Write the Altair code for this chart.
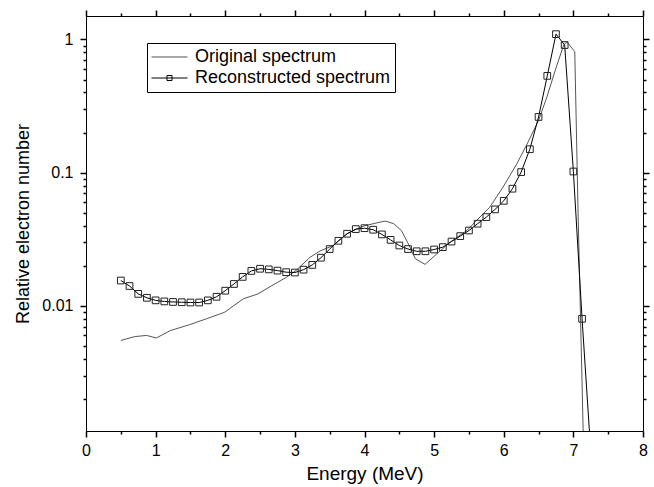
import altair as alt
import pandas as pd

# ---------------- data ----------------
orig_energy = [0.5, 0.70, 0.87, 1.01, 1.21, 1.49, 1.73, 1.99, 2.26, 2.47, 2.67, 2.88,
               3.03, 3.22, 3.36, 3.55, 3.75, 3.98, 4.22, 4.30, 4.42, 4.53, 4.63, 4.73,
               4.87, 5.04, 5.23, 5.47, 5.61, 5.80, 5.99, 6.19, 6.35, 6.50, 6.62, 6.74,
               6.86, 6.905, 7.02, 7.07, 7.14, 7.16]
orig_value = [0.0055, 0.00588, 0.0060, 0.00574, 0.00652, 0.00723, 0.0080, 0.00895, 0.0113,
              0.0123, 0.0142, 0.0164, 0.0187, 0.0232, 0.0258, 0.0284, 0.0348, 0.0397,
              0.0425, 0.0433, 0.0414, 0.0368, 0.0292, 0.0226, 0.0205, 0.0246, 0.0301,
              0.0368, 0.0438, 0.0551, 0.078, 0.117, 0.170, 0.247, 0.37, 0.588, 0.906,
              0.96, 0.81, 0.044, 0.0012, 0.0006]

recon_energy = [0.5, 0.625, 0.75, 0.875, 1.0, 1.125, 1.25, 1.375, 1.5, 1.625, 1.75, 1.875,
                2.0, 2.125, 2.25, 2.375, 2.5, 2.625, 2.75, 2.875, 3.0, 3.125, 3.25, 3.375,
                3.5, 3.625, 3.75, 3.875, 4.0, 4.125, 4.25, 4.375, 4.5, 4.625, 4.75, 4.875,
                5.0, 5.125, 5.25, 5.375, 5.5, 5.625, 5.75, 5.875, 6.0, 6.125, 6.25, 6.375,
                6.5, 6.625, 6.75, 6.875, 7.0, 7.125, 7.25]
recon_value = [0.0155, 0.0141, 0.0123, 0.0115, 0.0110, 0.0108, 0.0107, 0.01065, 0.0106,
               0.0106, 0.0110, 0.0117, 0.0130, 0.0146, 0.0165, 0.0183, 0.0190, 0.0188,
               0.0184, 0.0179, 0.0178, 0.0187, 0.0203, 0.0230, 0.0267, 0.0308, 0.0348,
               0.0377, 0.0383, 0.0373, 0.0344, 0.0313, 0.0284, 0.0267, 0.0257, 0.0257,
               0.0265, 0.0276, 0.0304, 0.0334, 0.0368, 0.0414, 0.0464, 0.0530, 0.0615,
               0.0758, 0.101, 0.150, 0.262, 0.533, 1.096, 0.908, 0.102, 0.0080, 0.0008]

series_names = ["Original spectrum", "Reconstructed spectrum"]

x_major_ticks = [0, 1, 2, 3, 4, 5, 6, 7, 8]
x_minor_ticks = [0.5, 1.5, 2.5, 3.5, 4.5, 5.5, 6.5, 7.5]
y_major_ticks = [0.01, 0.1, 1]
y_minor_ticks = [0.002, 0.003, 0.004, 0.005, 0.006, 0.007, 0.008, 0.009,
                 0.02, 0.03, 0.04, 0.05, 0.06, 0.07, 0.08, 0.09,
                 0.2, 0.3, 0.4, 0.5, 0.6, 0.7, 0.8, 0.9]

orig_df = pd.DataFrame({"energy": orig_energy, "value": orig_value})
recon_df = pd.DataFrame({"energy": recon_energy, "value": recon_value})
legend_df = pd.DataFrame({"series": series_names})

# ---------------- styling ----------------
FONT = "Liberation Sans"
x_scale = alt.Scale(domain=[0, 8], nice=False, zero=False)
y_scale = alt.Scale(type="log", domain=[0.00115, 1.5], nice=False)

text_style = dict(grid=False, labelFont=FONT, titleFont=FONT,
                  labelColor="black", titleColor="black", labelFontSize=16,
                  titleFontWeight="normal", labelOverlap=False,
                  labelFlush=False, domainColor="black", domainWidth=1)
tick_style = dict(tickColor="black", tickWidth=1.5)


def minor_axis(orient, values):
    return alt.Axis(orient=orient, values=values, tickSize=3, labels=False,
                    title=None, domain=False, **text_style, **tick_style)


def major_axis(orient, values):
    return alt.Axis(orient=orient, values=values, tickSize=6, labels=False,
                    title=None, **text_style, **tick_style)


x_bottom = alt.Axis(orient="bottom", values=x_major_ticks, tickSize=6, format="d",
                    title="Energy (MeV)", titleFontSize=19, labelPadding=5,
                    titlePadding=6, **text_style, **tick_style)
y_left = alt.Axis(orient="left", values=y_major_ticks, tickSize=6, format="~g",
                  title="Relative electron number", titleFontSize=18, labelPadding=7,
                  titlePadding=9, **text_style, **tick_style)

orig_line = alt.Chart(orig_df).mark_line(color="#555555", strokeWidth=1, clip=True).encode(
    x=alt.X("energy:Q", scale=x_scale, axis=x_bottom),
    y=alt.Y("value:Q", scale=y_scale, axis=y_left),
)

recon_line = alt.Chart(recon_df).mark_line(color="black", strokeWidth=1, clip=True).encode(
    x=alt.X("energy:Q", scale=x_scale, axis=major_axis("top", x_major_ticks)),
    y=alt.Y("value:Q", scale=y_scale, axis=major_axis("right", y_major_ticks)),
)

recon_pts = alt.Chart(recon_df).mark_point(shape="square", size=45, color="#222222",
                                          filled=False, strokeWidth=1, opacity=1,
                                          clip=True).encode(
    x=alt.X("energy:Q", scale=x_scale, axis=minor_axis("bottom", x_minor_ticks)),
    y=alt.Y("value:Q", scale=y_scale, axis=minor_axis("left", y_minor_ticks)),
)

# invisible layer that only carries the minor ticks of the top and right frame
frame_layer = alt.Chart(recon_df).mark_point(opacity=0, clip=True).encode(
    x=alt.X("energy:Q", scale=x_scale, axis=minor_axis("top", x_minor_ticks)),
    y=alt.Y("value:Q", scale=y_scale, axis=minor_axis("right", y_minor_ticks)),
)

line_path = "M-1,0H1"
line_square_path = "M-1,0H1M-0.14,-0.14H0.14V0.14H-0.14Z"

legend_def = alt.Legend(orient="none", legendX=61, legendY=27, title=None,
                        strokeColor="black", padding=4, cornerRadius=0,
                        labelFont=FONT, labelFontSize=18, labelColor="black",
                        labelLimit=400,
                        symbolSize=1296, symbolStrokeWidth=1, clipHeight=20,
                        labelOffset=7, rowPadding=1, symbolOpacity=1)

legend_layer = alt.Chart(legend_df).mark_point(opacity=0, filled=False).encode(
    shape=alt.Shape("series:N", scale=alt.Scale(domain=series_names,
                                                range=[line_path, line_square_path]),
                    legend=legend_def),
    color=alt.Color("series:N", scale=alt.Scale(domain=series_names,
                                                range=["#555555", "black"]),
                    legend=legend_def),
)

chart = alt.layer(orig_line, recon_line, recon_pts, frame_layer, legend_layer).properties(
    width=557, height=415,
    padding={"left": 86, "top": 16, "right": 11, "bottom": 56},
    autosize=alt.AutoSizeParams(type="none"),
).configure_view(stroke=None).configure(background="white")

chart.save("out.html", embed_options={"renderer": "svg", "actions": False})
